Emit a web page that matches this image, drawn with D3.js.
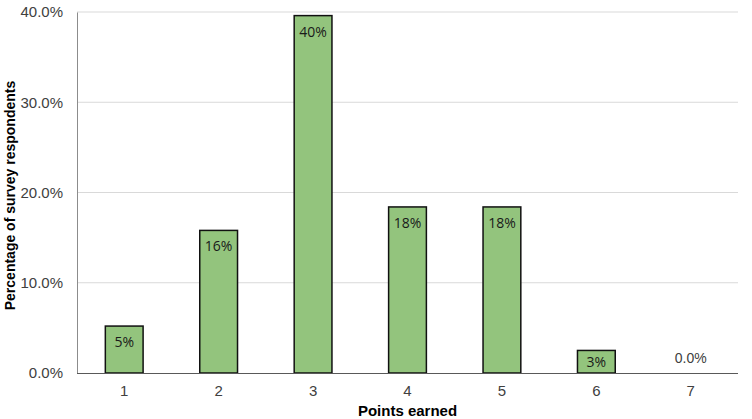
<!DOCTYPE html>
<html><head><meta charset="utf-8">
<script src="https://cdn.jsdelivr.net/npm/d3@7"></script>
<style>body{margin:0;background:#fff}svg{display:block}</style>
</head><body>
<svg id="c" width="752" height="419"></svg>
<script>
const categories = ["1","2","3","4","5","6","7"];
const values = [5.2, 15.8, 39.6, 18.4, 18.4, 2.5, 0];
const barLabels = ["5%","16%","40%","18%","18%","3%","0.0%"];
const yTicks = [0,10,20,30,40];
const xTitle = "Points earned";
const yTitle = "Percentage of survey respondents";

const svg = d3.select("#c");
const m = {l:77, r:738, t:12, b:373};
const x = d3.scaleBand().domain(categories).range([m.l,m.r]).paddingInner(0.6).paddingOuter(0.3);
const y = d3.scaleLinear().domain([0,40]).range([m.b,m.t]);

// gridlines
svg.append("g").selectAll("line").data(yTicks.filter(d=>d>0)).join("line")
  .attr("x1",m.l).attr("x2",m.r).attr("y1",d=>y(d)).attr("y2",d=>y(d))
  .attr("stroke","#d9d9d9").attr("stroke-width",1);

// y axis
const ya = svg.append("g").attr("transform",`translate(${m.l},0)`)
  .call(d3.axisLeft(y).tickValues(yTicks).tickFormat(d=>d.toFixed(1)+"%").tickSize(0).tickPadding(14));
ya.select(".domain").attr("stroke","#8c8c8c").attr("stroke-width",1);
ya.selectAll("text").attr("font-family","Liberation Sans, Arial, sans-serif").attr("font-size",15).attr("fill","#404040");

// bars
const data = categories.map((c,i)=>({c, v:values[i], l:barLabels[i]}));
svg.append("g").selectAll("rect").data(data.filter(d=>d.v>0)).join("rect")
  .attr("x",d=>x(d.c)).attr("width",x.bandwidth())
  .attr("y",d=>y(d.v)).attr("height",d=>y(0)-y(d.v))
  .attr("fill","#93c47d").attr("stroke","#111").attr("stroke-width",1.5);

// x axis
const xa = svg.append("g").attr("transform",`translate(0,${m.b})`)
  .call(d3.axisBottom(x).tickSize(0).tickPadding(12));
xa.select(".domain").attr("stroke","#595959").attr("stroke-width",1).attr("d",`M${m.l},0.5H${m.r}`);
xa.selectAll("text").attr("font-family","Liberation Sans, Arial, sans-serif").attr("font-size",15).attr("fill","#404040");

// bar labels
svg.append("g").selectAll("text").data(data).join("text")
  .attr("x",d=>x(d.c)+x.bandwidth()/2)
  .attr("y",d=>d.v>0 ? Math.min(y(d.v)+21, (y(d.v)+y(0))/2+5) : y(0)-10)
  .attr("text-anchor","middle")
  .attr("font-family", d=>d.v>0 ? "Open Sans, sans-serif" : "Liberation Sans, Arial, sans-serif")
  .attr("font-size",14)
  .attr("fill", d=>d.v>0 ? "#1a1a1a" : "#404040")
  .text(d=>d.l);

// titles
svg.append("text").attr("x",(m.l+m.r)/2).attr("y",416).attr("text-anchor","middle")
  .attr("font-family","Liberation Sans, Arial, sans-serif").attr("font-weight","bold").attr("font-size",15).attr("fill","#000")
  .text(xTitle);
svg.append("text").attr("transform",`translate(15,${(m.t+m.b)/2 + 3}) rotate(-90)`).attr("text-anchor","middle")
  .attr("font-family","Liberation Sans, Arial, sans-serif").attr("font-weight","bold").attr("font-size",14).attr("fill","#000")
  .text(yTitle);
</script>
</body></html>
